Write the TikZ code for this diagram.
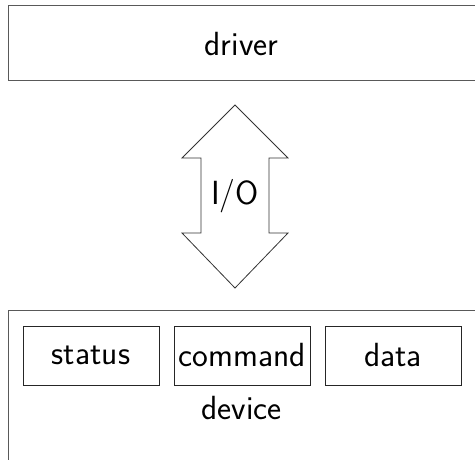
\documentclass[tikz,border=0pt]{standalone}
\begin{document}
\begin{tikzpicture}[x=1pt,y=-1pt,
  every node/.style={font=\sffamily\fontsize{33.5}{40}\selectfont, inner sep=0pt},
  outer/.style={draw=black!65, line width=1pt},
  inbox/.style={draw=black!85, line width=0.9pt, minimum width=136pt, minimum height=59pt},
  arrowline/.style={draw=black!80, line width=0.8pt}]
\useasboundingbox (0,0) rectangle (475,460);
% driver
\draw[outer] (480,6) -- (8,6) -- (8,81) -- (480,81);
\node (driver) at (241.5,44) {driver};
% I/O double arrow
\draw[arrowline] (235,105) -- (288,158) -- (269,158) -- (269,233) -- (288,233)
  -- (235,288) -- (182,233) -- (201,233) -- (201,158) -- (182,158) -- cycle;
\node (io) at (235,196) {I/O};
% device
\draw[outer] (480,311) -- (8,311) -- (8,470);
\node[inbox] (status) at (91,355.5) {status};
\node[inbox] (command) at (242,355.5) {command};
\node[inbox] (data) at (393,355.5) {data};
\node (device) at (241.5,408) {device};
\end{tikzpicture}
\end{document}
